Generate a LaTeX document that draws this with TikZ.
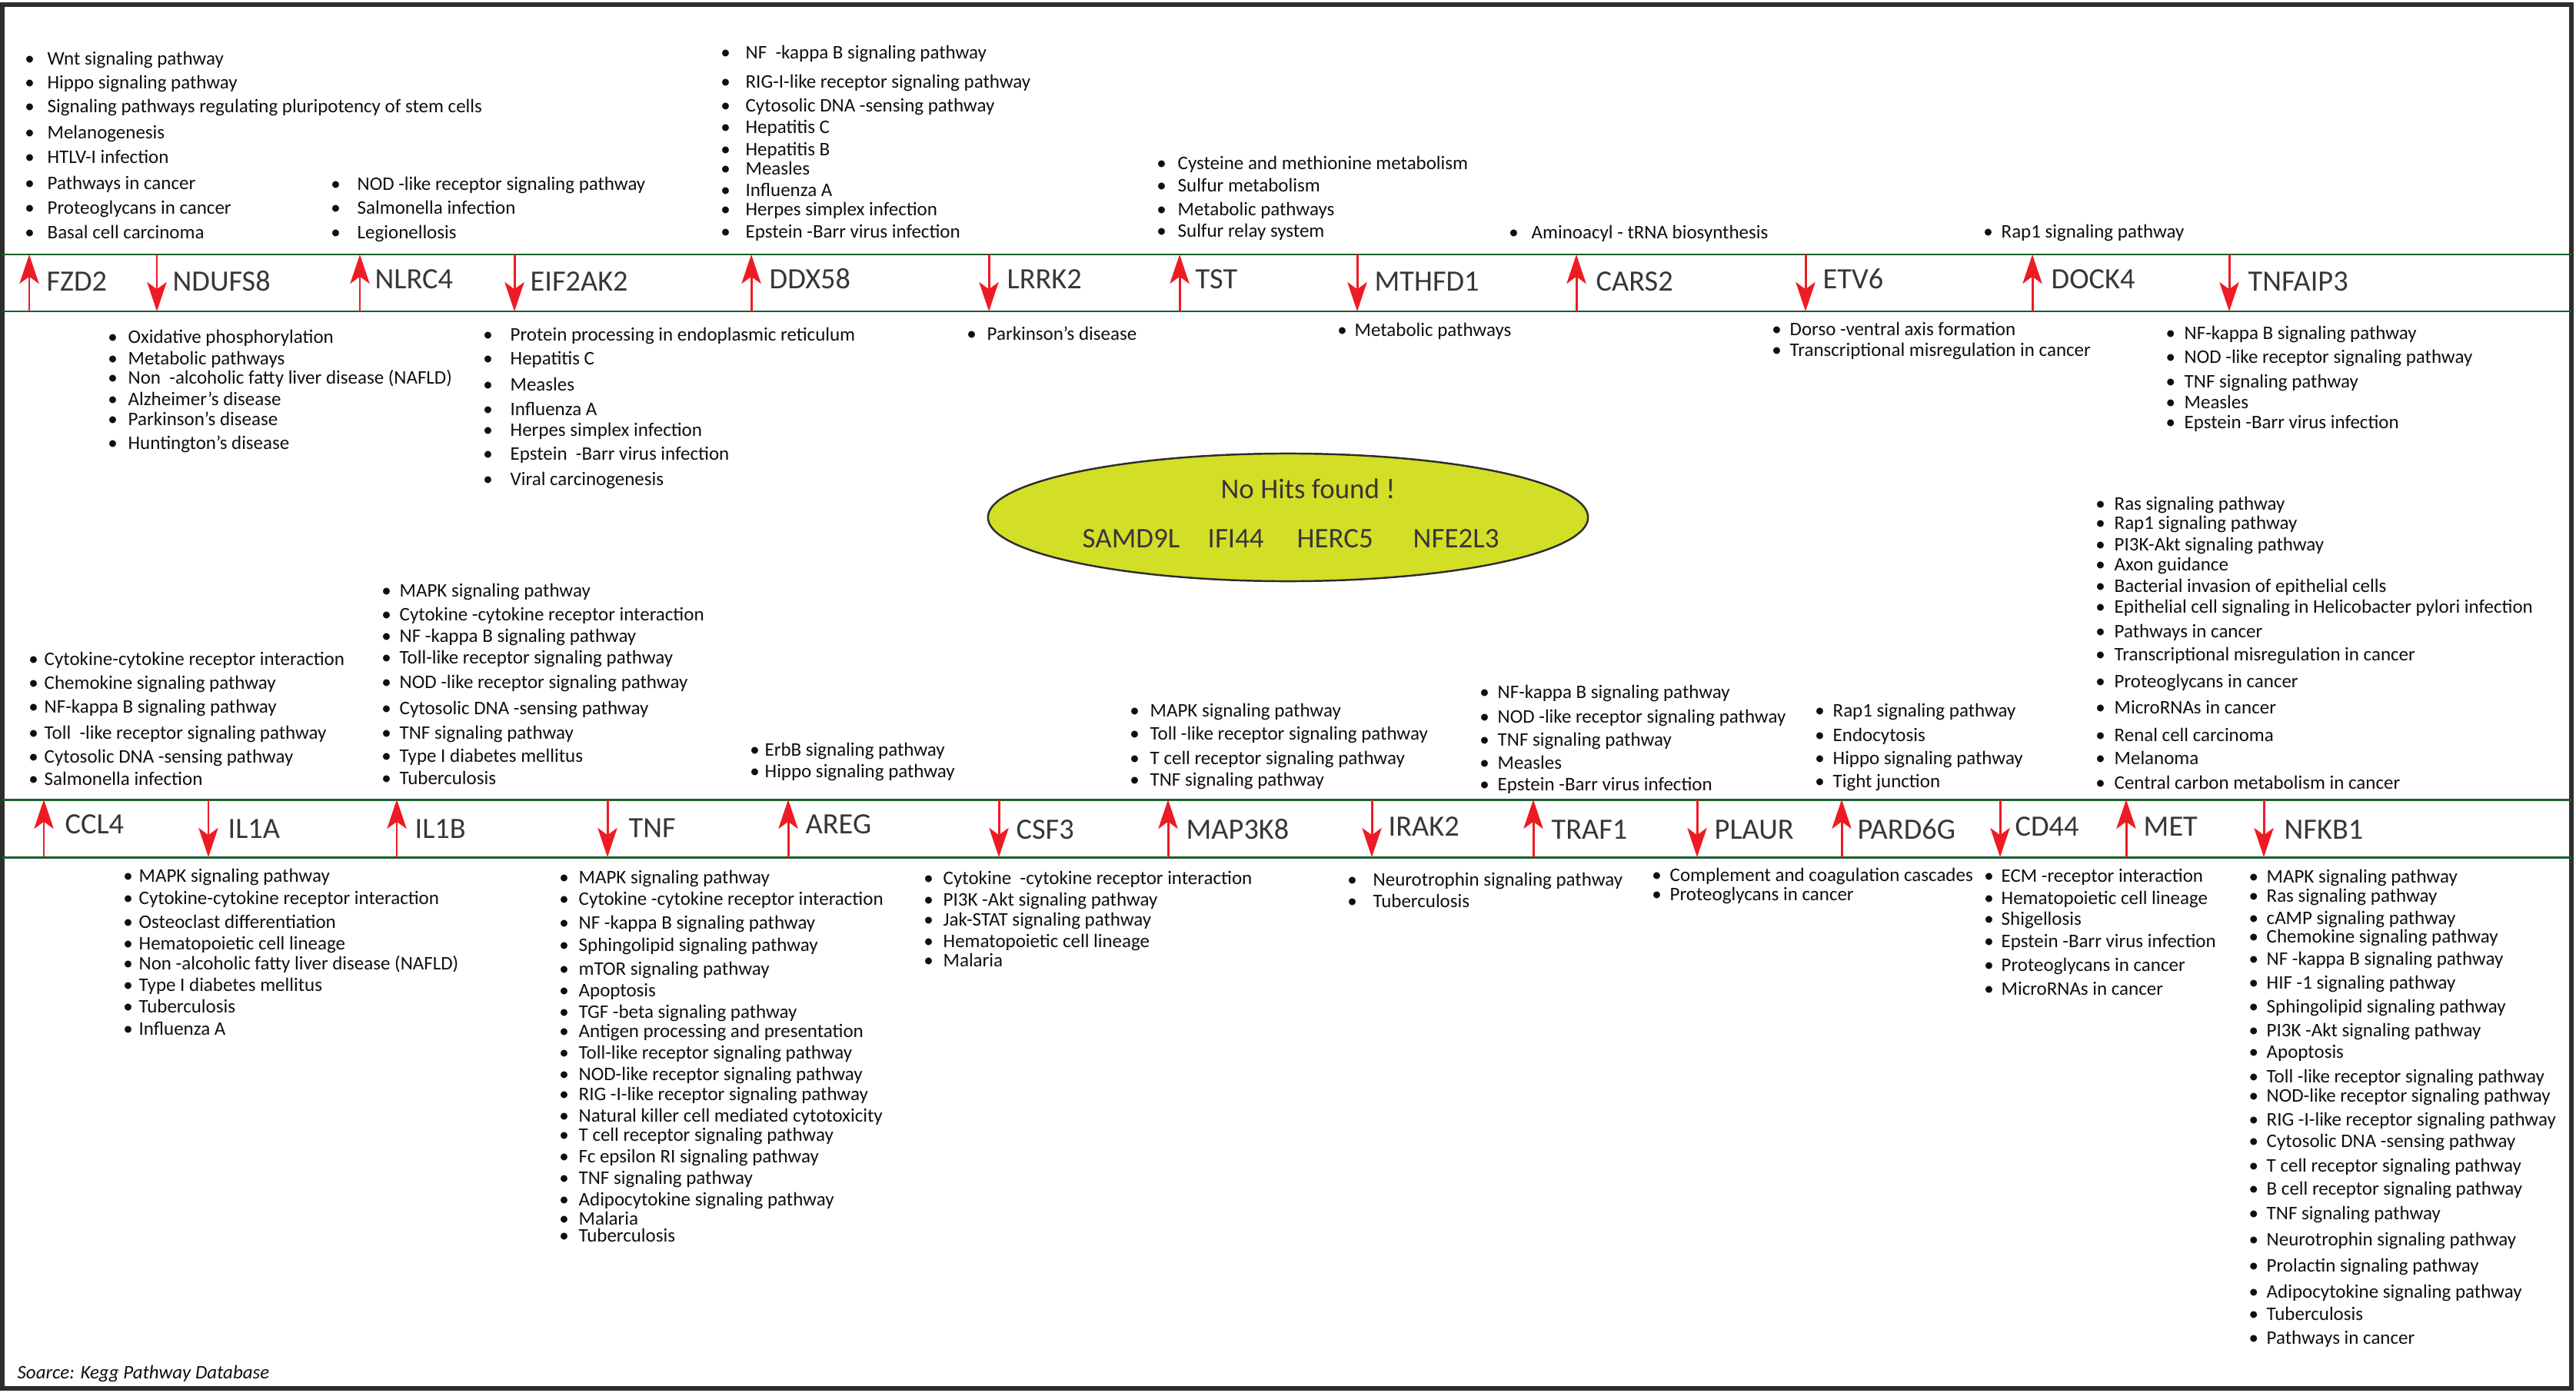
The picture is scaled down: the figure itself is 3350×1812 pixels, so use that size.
\documentclass[tikz,border=0pt]{standalone}
\usepackage{fontspec}
\setmainfont{Carlito}
\usetikzlibrary{arrows.meta,shapes.geometric}
\definecolor{frm}{RGB}{45,45,45}
\definecolor{grn}{RGB}{25,95,45}
\definecolor{arr}{RGB}{237,28,36}
\definecolor{ellfill}{RGB}{211,222,38}
\definecolor{gtxt}{RGB}{55,55,55}
\definecolor{ltxt}{RGB}{15,15,15}
\tikzset{
  item/.style={anchor=west, inner sep=0pt, text=ltxt, font=\fontsize{7.1}{8}\selectfont, text height=0.68em, text depth=0.12em},
  genelab/.style={anchor=west, inner sep=0pt, text=gtxt, font=\fontsize{10.9}{12}\selectfont, text height=0.64em, text depth=0pt},
  elltxt/.style={inner sep=0pt, text=gtxt, font=\fontsize{10.5}{12}\selectfont, text height=0.64em, text depth=0pt},
  redarr/.style={draw=arr, line width=0.85pt, -{Stealth[length=10.8pt,width=7.2pt,inset=2.6pt]}},
  bandline/.style={draw=grn, line width=0.85pt},
  framebox/.style={draw=frm, line width=1.45pt}
}
\newcommand\plist[4]{%
  \pgfmathsetmacro\bwid{2*(#3-#2)*0.28453}%
  \foreach \yy/\itx [count=\ci] in {#4}{%
    \node[item] (#1-\ci) at (#3,\yy) {\llap{\makebox[\bwid pt][c]{•}}\itx};}}
\newcommand\geneup[7]{%
  \node[genelab] (#1) at (#4,#5) {#2};
  \coordinate (#1-t) at (#3,#6); \coordinate (#1-b) at (#3,#7);
  \draw[redarr] (#1-b) -- (#1-t);}
\newcommand\genedn[7]{%
  \node[genelab] (#1) at (#4,#5) {#2};
  \coordinate (#1-t) at (#3,#6); \coordinate (#1-b) at (#3,#7);
  \draw[redarr] (#1-t) -- (#1-b);}
\begin{document}
\begin{tikzpicture}[x=0.01cm, y=-0.01cm]
\useasboundingbox (0,0) rectangle (3350,1812);
\fill[white] (0,0) rectangle (3350,1812);
\draw[framebox] (3,6) rectangle (3344,1806);
% bands
\draw[bandline] (3,331) -- (3344,331);
\draw[bandline] (3,405) -- (3344,405);
\draw[bandline] (3,1040) -- (3344,1040);
\draw[bandline] (3,1115) -- (3344,1115);
% top band genes
\geneup{fzd2}{FZD2}{38}{60}{367}{331}{405}
\genedn{ndufs8}{NDUFS8}{204}{224}{367}{331}{405}
\geneup{nlrc4}{NLRC4}{468}{487}{364}{331}{405}
\genedn{eif2ak2}{EIF2AK2}{669}{689}{367}{331}{405}
\geneup{ddx58}{DDX58}{977}{1000}{364}{331}{405}
\genedn{lrrk2}{LRRK2}{1286}{1309}{364}{331}{405}
\geneup{tst}{TST}{1534}{1554}{364}{331}{405}
\genedn{mthfd1}{MTHFD1}{1765}{1787}{367}{331}{405}
\geneup{cars2}{CARS2}{2050}{2075}{367}{331}{405}
\genedn{etv6}{ETV6}{2348}{2370}{364}{331}{405}
\geneup{dock4}{DOCK4}{2643}{2667}{364}{331}{405}
\genedn{tnfaip3}{TNFAIP3}{2899}{2923}{367}{331}{405}
% bottom band genes
\geneup{ccl4}{CCL4}{57}{84}{1073}{1040}{1115}
\genedn{il1a}{IL1A}{271}{296}{1079}{1040}{1115}
\geneup{il1b}{IL1B}{516}{539}{1079}{1040}{1115}
\genedn{tnf}{TNF}{790}{817}{1078}{1040}{1115}
\geneup{areg}{AREG}{1025}{1047}{1073}{1040}{1115}
\genedn{csf3}{CSF3}{1299}{1321}{1080}{1040}{1115}
\geneup{map3k8}{MAP3K8}{1519}{1542}{1080}{1040}{1115}
\genedn{irak2}{IRAK2}{1784}{1805}{1076}{1040}{1115}
\geneup{traf1}{TRAF1}{1994}{2017}{1080}{1040}{1115}
\genedn{plaur}{PLAUR}{2207}{2229}{1080}{1040}{1115}
\geneup{pard6g}{PARD6G}{2395}{2415}{1080}{1040}{1115}
\genedn{cd44}{CD44}{2601}{2620}{1076}{1040}{1115}
\geneup{met}{MET}{2765}{2787}{1076}{1040}{1115}
\genedn{nfkb1}{NFKB1}{2944}{2970}{1080}{1040}{1115}
% top lists
\plist{Lfzd}{38}{61}{75/{Wnt signaling pathway},106/{Hippo signaling pathway},137/{Signaling pathways regulating pluripotency of stem cells},171/{Melanogenesis},203/{HTLV-I infection},237/{Pathways in cancer},269/{Proteoglycans in cancer},301/{Basal cell carcinoma}}
\plist{Lnlrc}{436}{464}{238/{NOD -like receptor signaling pathway},269/{Salmonella infection},301/{Legionellosis}}
\plist{Lddx}{943}{969}{67/{NF \ -kappa B signaling pathway},105/{RIG-I-like receptor signaling pathway},136/{Cytosolic DNA -sensing pathway},164/{Hepatitis C},193/{Hepatitis B},218/{Measles},246/{Influenza A},271/{Herpes simplex infection},300/{Epstein -Barr virus infection}}
\plist{Ltst}{1510}{1531}{211/{Cysteine and methionine metabolism},240/{Sulfur metabolism},271/{Metabolic pathways},299/{Sulfur relay system}}
\plist{Lcars}{1968}{1991}{301/{Aminoacyl - tRNA biosynthesis}}
\plist{Ldock}{2585}{2602}{300/{Rap1 signaling pathway}}
% lists below top band
\plist{Lnduf}{146}{166}{437/{Oxidative phosphorylation},465/{Metabolic pathways},490/{Non \ -alcoholic fatty liver disease (NAFLD)},518/{Alzheimer's disease},544/{Parkinson's disease},575/{Huntington's disease}}
\plist{Leif}{634}{663}{434/{Protein processing in endoplasmic reticulum},465/{Hepatitis C},499/{Measles},531/{Influenza A},558/{Herpes simplex infection},589/{Epstein \ -Barr virus infection},622/{Viral carcinogenesis}}
\plist{Llrrk}{1263}{1283}{433/{Parkinson's disease}}
\plist{Lmthf}{1745}{1761}{428/{Metabolic pathways}}
\plist{Letv}{2310}{2327}{427/{Dorso -ventral axis formation},454/{Transcriptional misregulation in cancer}}
\plist{Ltnfaip}{2822}{2840}{432/{NF-kappa B signaling pathway},463/{NOD -like receptor signaling pathway},495/{TNF signaling pathway},522/{Measles},548/{Epstein -Barr virus infection}}
% no hits ellipse
\node[ellipse, draw=frm, line width=0.7pt, fill=ellfill, minimum width=7.8cm, minimum height=1.66cm, inner sep=0pt] (nohits) at (1675,673) {};
\node[elltxt] (nohitstxt) at (1701,637) {No Hits found !};
\node[elltxt, anchor=west] (samd9l) at (1407,701) {SAMD9L};
\node[elltxt, anchor=west] (ifi44) at (1570,701) {IFI44};
\node[elltxt, anchor=west] (herc5) at (1686,701) {HERC5};
\node[elltxt, anchor=west] (nfe2l3) at (1837,701) {NFE2L3};
% lists above bottom band
\plist{Lccl}{43}{57}{856/{Cytokine-cytokine receptor interaction},887/{Chemokine signaling pathway},918/{NF-kappa B signaling pathway},952/{Toll \ -like receptor signaling pathway},983/{Cytosolic DNA -sensing pathway},1012/{Salmonella infection}}
\plist{Lil1b}{502}{519}{767/{MAPK signaling pathway},798/{Cytokine -cytokine receptor interaction},826/{NF -kappa B signaling pathway},854/{Toll-like receptor signaling pathway},886/{NOD -like receptor signaling pathway},920/{Cytosolic DNA -sensing pathway},952/{TNF signaling pathway},982/{Type I diabetes mellitus},1011/{Tuberculosis}}
\plist{Lareg}{981}{994}{974/{ErbB signaling pathway},1002/{Hippo signaling pathway}}
\plist{Lmap}{1475}{1495}{923/{MAPK signaling pathway},953/{Toll -like receptor signaling pathway},985/{T cell receptor signaling pathway},1013/{TNF signaling pathway}}
\plist{Ltraf}{1930}{1947}{899/{NF-kappa B signaling pathway},931/{NOD -like receptor signaling pathway},961/{TNF signaling pathway},991/{Measles},1019/{Epstein -Barr virus infection}}
\plist{Lpard}{2366}{2383}{923/{Rap1 signaling pathway},955/{Endocytosis},985/{Hippo signaling pathway},1015/{Tight junction}}
\plist{Lmet}{2731}{2749}{654/{Ras signaling pathway},679/{Rap1 signaling pathway},707/{PI3K-Akt signaling pathway},733/{Axon guidance},761/{Bacterial invasion of epithelial cells},788/{Epithelial cell signaling in Helicobacter pylori infection},820/{Pathways in cancer},850/{Transcriptional misregulation in cancer},885/{Proteoglycans in cancer},919/{MicroRNAs in cancer},955/{Renal cell carcinoma},985/{Melanoma},1017/{Central carbon metabolism in cancer}}
% lists below bottom band
\plist{Lil1a}{166}{180}{1138/{MAPK signaling pathway},1167/{Cytokine-cytokine receptor interaction},1198/{Osteoclast differentiation},1226/{Hematopoietic cell lineage},1252/{Non -alcoholic fatty liver disease (NAFLD)},1280/{Type I diabetes mellitus},1308/{Tuberculosis},1337/{Influenza A}}
\plist{Ltnf}{733}{752}{1140/{MAPK signaling pathway},1168/{Cytokine -cytokine receptor interaction},1199/{NF -kappa B signaling pathway},1228/{Sphingolipid signaling pathway},1259/{mTOR signaling pathway},1287/{Apoptosis},1315/{TGF -beta signaling pathway},1340/{Antigen processing and presentation},1368/{Toll-like receptor signaling pathway},1396/{NOD-like receptor signaling pathway},1422/{RIG -I-like receptor signaling pathway},1450/{Natural killer cell mediated cytotoxicity},1475/{T cell receptor signaling pathway},1503/{Fc epsilon RI signaling pathway},1531/{TNF signaling pathway},1559/{Adipocytokine signaling pathway},1584/{Malaria},1606/{Tuberculosis}}
\plist{Lcsf}{1207}{1226}{1141/{Cytokine \ -cytokine receptor interaction},1169/{PI3K -Akt signaling pathway},1195/{Jak-STAT signaling pathway},1223/{Hematopoietic cell lineage},1248/{Malaria}}
\plist{Lirak}{1758}{1785}{1143/{Neurotrophin signaling pathway},1171/{Tuberculosis}}
\plist{Lplaur}{2154}{2171}{1137/{Complement and coagulation cascades},1162/{Proteoglycans in cancer}}
\plist{Lcd}{2586}{2602}{1138/{ECM -receptor interaction},1167/{Hematopoietic cell lineage},1194/{Shigellosis},1223/{Epstein -Barr virus infection},1254/{Proteoglycans in cancer},1285/{MicroRNAs in cancer}}
\plist{Lnfkb}{2930}{2947}{1139/{MAPK signaling pathway},1164/{Ras signaling pathway},1193/{cAMP signaling pathway},1217/{Chemokine signaling pathway},1246/{NF -kappa B signaling pathway},1277/{HIF -1 signaling pathway},1308/{Sphingolipid signaling pathway},1339/{PI3K -Akt signaling pathway},1367/{Apoptosis},1399/{Toll -like receptor signaling pathway},1424/{NOD-like receptor signaling pathway},1455/{RIG -I-like receptor signaling pathway},1483/{Cytosolic DNA -sensing pathway},1515/{T cell receptor signaling pathway},1545/{B cell receptor signaling pathway},1577/{TNF signaling pathway},1611/{Neurotrophin signaling pathway},1645/{Prolactin signaling pathway},1679/{Adipocytokine signaling pathway},1708/{Tuberculosis},1739/{Pathways in cancer}}
% source
\node[item, font=\fontsize{7.1}{8}\selectfont\itshape] (source) at (22,1784) {Soarce: Kegg Pathway Database};
\end{tikzpicture}
\end{document}
